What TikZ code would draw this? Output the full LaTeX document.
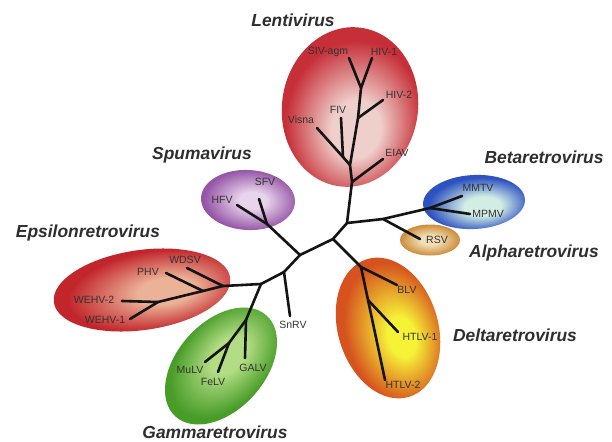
\documentclass[tikz,border=0pt]{standalone}
\usepackage{fontspec}
\setmainfont{Liberation Sans}
\usetikzlibrary{shapes.geometric}
\definecolor{lentiIn}{HTML}{EFCFCB}
\definecolor{lentiOut}{HTML}{C62F38}
\definecolor{spumaIn}{HTML}{E8D4EC}
\definecolor{spumaOut}{HTML}{9656A6}
\definecolor{epsIn}{HTML}{ECB298}
\definecolor{epsOut}{HTML}{C2262C}
\definecolor{betaIn}{HTML}{D2EDE4}
\definecolor{betaOut}{HTML}{2D52C2}
\definecolor{alphaIn}{HTML}{F0DEB4}
\definecolor{alphaOut}{HTML}{CC8C3A}
\definecolor{deltaIn}{HTML}{F6F236}
\definecolor{deltaOut}{HTML}{D6521E}
\definecolor{gammaIn}{HTML}{B2DD84}
\definecolor{gammaOut}{HTML}{489C28}
\pgfdeclareradialshading{lentiS}{\pgfpoint{4bp}{-8bp}}{color(0bp)=(lentiIn); color(9bp)=(lentiIn); color(25bp)=(lentiOut); color(50bp)=(lentiOut)}
\pgfdeclareradialshading{spumaS}{\pgfpoint{3bp}{0bp}}{color(0bp)=(spumaIn); color(7bp)=(spumaIn); color(25bp)=(spumaOut); color(50bp)=(spumaOut)}
\pgfdeclareradialshading{epsS}{\pgfpoint{8bp}{-3bp}}{color(0bp)=(epsIn); color(8bp)=(epsIn); color(25bp)=(epsOut); color(50bp)=(epsOut)}
\pgfdeclareradialshading{betaS}{\pgfpoint{5bp}{-5bp}}{color(0bp)=(betaIn); color(9bp)=(betaIn); color(25bp)=(betaOut); color(50bp)=(betaOut)}
\pgfdeclareradialshading{alphaS}{\pgfpoint{0bp}{0bp}}{color(0bp)=(alphaIn); color(8bp)=(alphaIn); color(25bp)=(alphaOut); color(50bp)=(alphaOut)}
\pgfdeclareradialshading{deltaS}{\pgfpoint{6bp}{-5bp}}{color(0bp)=(deltaIn); color(7bp)=(deltaIn); color(25bp)=(deltaOut); color(50bp)=(deltaOut)}
\pgfdeclareradialshading{gammaS}{\pgfpoint{6bp}{1bp}}{color(0bp)=(gammaIn); color(8bp)=(gammaIn); color(25bp)=(gammaOut); color(50bp)=(gammaOut)}
\begin{document}
\begin{tikzpicture}[x=1pt,y=-1pt,
  branch/.style={draw=black!92, line width=2.6pt, line cap=round, line join=round},
  leaf/.style={font=\fontsize{10.5}{12}\selectfont, text=black!80, inner sep=0pt},
  clade/.style={font=\fontsize{17.4}{20}\selectfont\bfseries\itshape, text=black!82, inner sep=0pt}]
\useasboundingbox (0,0) rectangle (612,441);
\fill[white] (0,0) rectangle (612,441);

% clade ellipses
\begin{scope}[transform canvas={shift={(350,107)},rotate=-8}]
  \shade[shading=lentiS] (0,0) ellipse [x radius=68pt, y radius=80pt];
\end{scope}
\begin{scope}[transform canvas={shift={(248,200)},rotate=-3}]
  \shade[shading=spumaS] (0,0) ellipse [x radius=47pt, y radius=30pt];
\end{scope}
\begin{scope}[transform canvas={shift={(142,290)},rotate=8}]
  \shade[shading=epsS] (0,0) ellipse [x radius=89pt, y radius=40pt];
\end{scope}
\begin{scope}[transform canvas={shift={(474,202)},rotate=3}]
  \shade[shading=betaS] (0,0) ellipse [x radius=51pt, y radius=27pt];
\end{scope}
\begin{scope}[transform canvas={shift={(430,240)}}]
  \shade[shading=alphaS] (0,0) ellipse [x radius=30pt, y radius=15.5pt];
\end{scope}
\begin{scope}[transform canvas={shift={(388,328)},rotate=17}]
  \shade[shading=deltaS] (0,0) ellipse [x radius=50pt, y radius=72pt];
\end{scope}
\begin{scope}[transform canvas={shift={(221,366)},rotate=48}]
  \shade[shading=gammaS] (0,0) ellipse [x radius=68pt, y radius=44pt];
\end{scope}

% junctions and leaf ends
\coordinate (A) at (347,223);
\coordinate (J1) at (352,182);
\coordinate (J2) at (350,165);
\coordinate (J3) at (358,118);
\coordinate (J4) at (361,88);
\coordinate (K) at (343,157);
\coordinate (eSIV) at (349,58);
\coordinate (eHIV1) at (372,58);
\coordinate (eHIV2) at (383,100);
\coordinate (eFIV) at (341,118);
\coordinate (eVisna) at (317,128);
\coordinate (eEIAV) at (383,159);
\coordinate (B) at (383,219);
\coordinate (C) at (430,208);
\coordinate (eMMTV) at (462,196);
\coordinate (eMPMV) at (470,214);
\coordinate (eRSV) at (420,239);
\coordinate (D) at (333,239);
\coordinate (E) at (361,267);
\coordinate (E2) at (368,300);
\coordinate (eBLV) at (397,285);
\coordinate (eHTLV1) at (398,332);
\coordinate (eHTLV2) at (385,380);
\coordinate (F) at (300,255);
\coordinate (G) at (267,224);
\coordinate (eSFV) at (259,199);
\coordinate (eHFV) at (237,205);
\coordinate (H) at (284,272);
\coordinate (eSnRV) at (290,316);
\coordinate (I) at (261,284);
\coordinate (Gm1) at (246,320);
\coordinate (Gm2) at (229,343);
\coordinate (eGALV) at (245,358);
\coordinate (eMuLV) at (205,362);
\coordinate (eFeLV) at (218,372);
\coordinate (Ep1) at (223,286);
\coordinate (Ep2) at (203,291);
\coordinate (Ep3) at (158,302);
\coordinate (eWDSV) at (187,268);
\coordinate (ePHV) at (166,273);
\coordinate (eWEHV2) at (122,301);
\coordinate (eWEHV1) at (130,319);

% branches
\draw[branch] (A) -- (J1) -- (J2) -- (J3) -- (J4) -- (eSIV);
\draw[branch] (J4) -- (eHIV1);
\draw[branch] (J3) -- (eHIV2);
\draw[branch] (J2) -- (K) -- (eVisna);
\draw[branch] (K) -- (eFIV);
\draw[branch] (J1) -- (eEIAV);
\draw[branch] (A) -- (B) -- (C) -- (eMMTV);
\draw[branch] (C) -- (eMPMV);
\draw[branch] (B) -- (eRSV);
\draw[branch] (A) -- (D) -- (E) -- (eBLV);
\draw[branch] (E) -- (E2) -- (eHTLV2);
\draw[branch] (E2) -- (eHTLV1);
\draw[branch] (D) -- (F) -- (G) -- (eSFV);
\draw[branch] (G) -- (eHFV);
\draw[branch] (F) -- (H) -- (eSnRV);
\draw[branch] (H) -- (I) -- (Gm1) -- (eGALV);
\draw[branch] (Gm1) -- (Gm2) -- (eMuLV);
\draw[branch] (Gm2) -- (eFeLV);
\draw[branch] (I) -- (Ep1) -- (Ep2) -- (Ep3) -- (eWEHV2);
\draw[branch] (Ep3) -- (eWEHV1);
\draw[branch] (Ep1) -- (eWDSV);
\draw[branch] (Ep2) -- (ePHV);

% leaf labels
\node[leaf] (lSIV) at (328,52) {SIV-agm};
\node[leaf] (lHIV1) at (384,52) {HIV-1};
\node[leaf] (lHIV2) at (399,95) {HIV-2};
\node[leaf] (lFIV) at (338,110) {FIV};
\node[leaf] (lVisna) at (301,120) {Visna};
\node[leaf] (lEIAV) at (397,153) {EIAV};
\node[leaf] (lSFV) at (265,182) {SFV};
\node[leaf] (lHFV) at (222,200) {HFV};
\node[leaf] (lWDSV) at (185,260) {WDSV};
\node[leaf] (lPHV) at (148,272) {PHV};
\node[leaf] (lWEHV2) at (94,300) {WEHV-2};
\node[leaf] (lWEHV1) at (105,320) {WEHV-1};
\node[leaf] (lMMTV) at (478,188) {MMTV};
\node[leaf] (lMPMV) at (488,214) {MPMV};
\node[leaf] (lRSV) at (437,240) {RSV};
\node[leaf] (lBLV) at (407,290) {BLV};
\node[leaf] (lHTLV1) at (420,337) {HTLV-1};
\node[leaf] (lHTLV2) at (403,385) {HTLV-2};
\node[leaf] (lMuLV) at (190,370) {MuLV};
\node[leaf] (lFeLV) at (213,382) {FeLV};
\node[leaf] (lGALV) at (253,368) {GALV};
\node[leaf] (lSnRV) at (293,325) {SnRV};

% clade titles
\node[clade] (tLenti) at (293,20) {Lentivirus};
\node[clade] (tSpuma) at (202,155) {Spumavirus};
\node[clade] (tBeta) at (544,157) {Betaretrovirus};
\node[clade] (tAlpha) at (534,253) {Alpharetrovirus};
\node[clade] (tEps) at (88,233) {Epsilonretrovirus};
\node[clade] (tDelta) at (515,335) {Deltaretrovirus};
\node[clade] (tGamma) at (215,432) {Gammaretrovirus};
\end{tikzpicture}
\end{document}
